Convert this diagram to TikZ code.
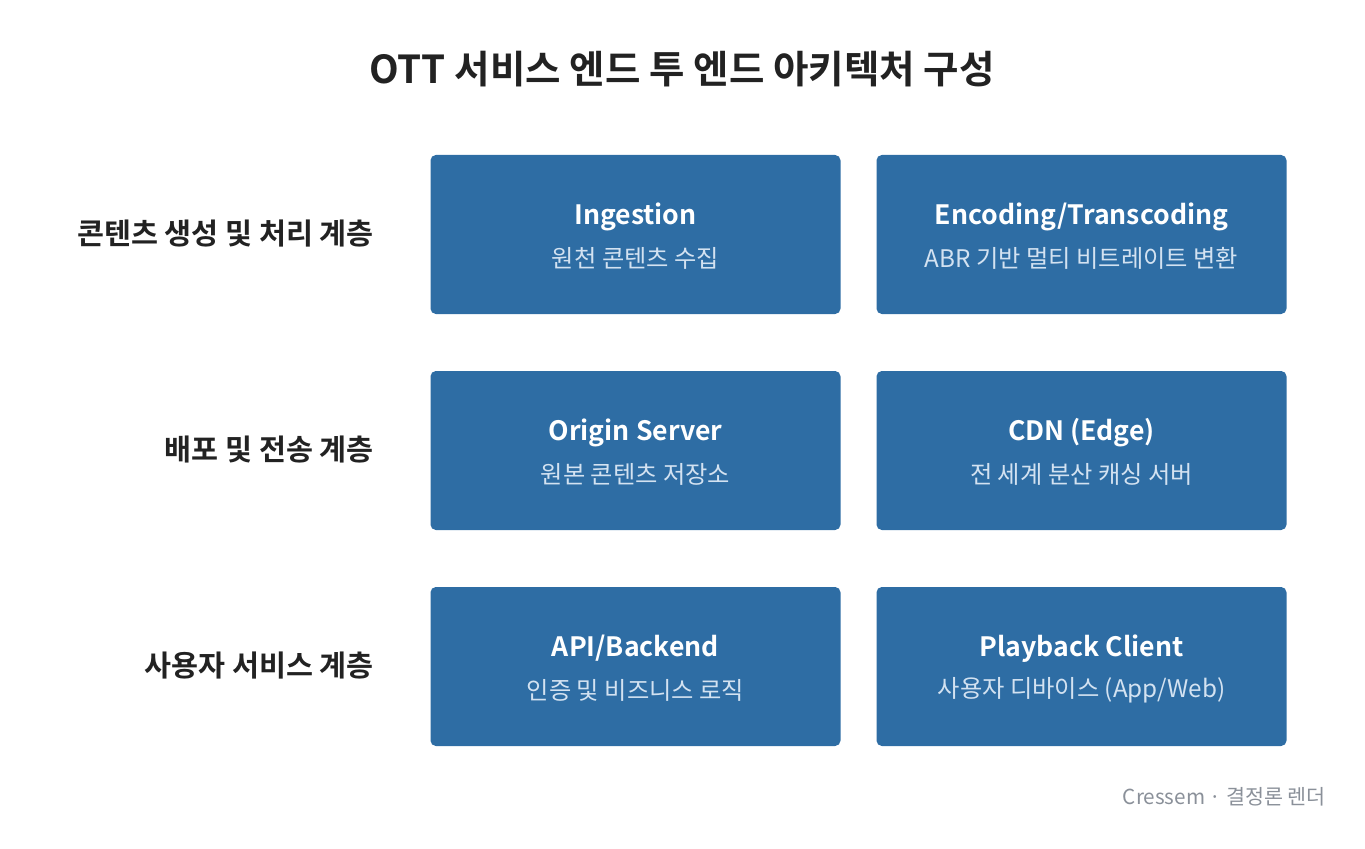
\documentclass[tikz,border=0pt]{standalone}
\usepackage{fontspec}
\setmainfont{Noto Sans CJK KR}[BoldFont={Noto Sans CJK KR Bold}]
\definecolor{boxblue}{HTML}{2E6DA4}
\definecolor{subtxt}{HTML}{D3E2F1}
\definecolor{dark}{HTML}{222222}
\definecolor{foot}{HTML}{8A9099}
\begin{document}
\begin{tikzpicture}[x=0.75pt,y=-0.75pt,
  card/.style={fill=boxblue, rounded corners=4pt, minimum width=307.5pt, minimum height=119.25pt, inner sep=0pt},
  cardtitle/.style={text=white, font=\fontsize{20}{24}\selectfont\bfseries, anchor=center},
  cardsub/.style={text=subtxt, font=\fontsize{18.2}{22}\selectfont, anchor=center},
  layer/.style={text=dark, font=\fontsize{22}{26}\selectfont\bfseries, anchor=east, inner sep=0pt},
]
\useasboundingbox (0,0) rectangle (1365,849);
\node[text=dark, font=\fontsize{28.9}{34}\selectfont\bfseries] (title) at (682,69) {OTT 서비스 엔드 투 엔드 아키텍처 구성};

\node[layer] (l1) at (374,234) {콘텐츠 생성 및 처리 계층};
\node[layer] (l2) at (374,450) {배포 및 전송 계층};
\node[layer] (l3) at (374,666) {사용자 서비스 계층};

\node[card] (b11) at (635.5,234.5) {};
\node[card] (b12) at (1081.5,234.5) {};
\node[card] (b21) at (635.5,450.5) {};
\node[card] (b22) at (1081.5,450.5) {};
\node[card] (b31) at (635.5,666.5) {};
\node[card] (b32) at (1081.5,666.5) {};

\node[cardtitle] (t11) at (635.5,216.5) {Ingestion};
\node[cardsub] (s11) at (635.5,258) {원천 콘텐츠 수집};
\node[cardtitle] (t12) at (1081.5,216.5) {Encoding/Transcoding};
\node[cardsub] (s12) at (1081.5,258) {ABR 기반 멀티 비트레이트 변환};
\node[cardtitle] (t21) at (635.5,432.5) {Origin Server};
\node[cardsub] (s21) at (635.5,474) {원본 콘텐츠 저장소};
\node[cardtitle] (t22) at (1081.5,432.5) {CDN (Edge)};
\node[cardsub] (s22) at (1081.5,474) {전 세계 분산 캐싱 서버};
\node[cardtitle] (t31) at (635.5,648.5) {API/Backend};
\node[cardsub] (s31) at (635.5,690) {인증 및 비즈니스 로직};
\node[cardtitle] (t32) at (1081.5,648.5) {Playback Client};
\node[cardsub] (s32) at (1081.5,690) {사용자 디바이스 (App/Web)};

\node[text=foot, font=\fontsize{15.5}{18}\selectfont, anchor=east, inner sep=0pt] (footer) at (1326,797) {Cressem · 결정론 렌더};
\end{tikzpicture}
\end{document}
